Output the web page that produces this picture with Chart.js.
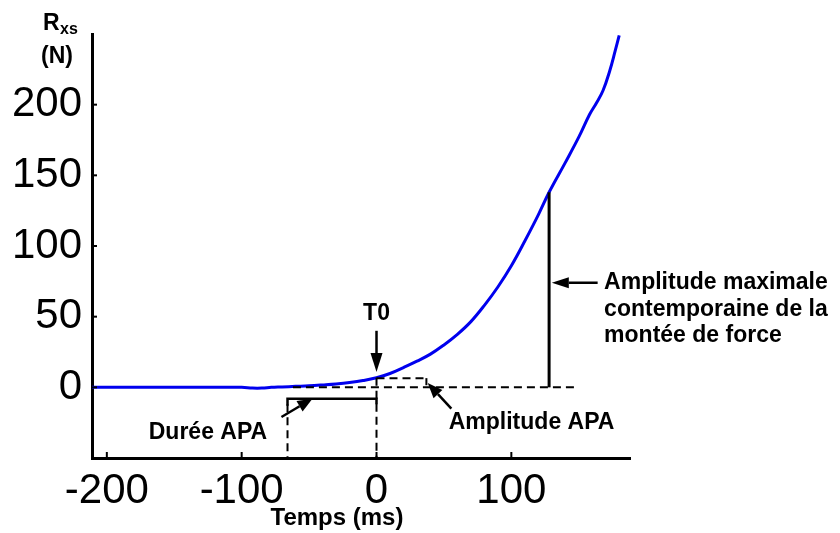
<!DOCTYPE html>
<html>
<head>
<meta charset="utf-8">
<title>Rxs - APA</title>
<script src="https://cdn.jsdelivr.net/npm/chart.js@4.4.1/dist/chart.umd.min.js"></script>
<style>
  html, body { margin: 0; padding: 0; background: #fff; }
  #wrap { width: 840px; height: 533px; }
</style>
</head>
<body>
<div id="wrap"><canvas id="chart" width="840" height="533"></canvas></div>
<script>
// Temps (ms) relatif a T0 et force Rxs (N)
const times  = [-211, -150, -100, -92, -85, -78, -70, -60, -50, -40, -30, -20, -10, 0,
                10, 20, 30, 40, 50, 60, 70, 80, 90, 100, 110, 120, 128, 140, 150, 158,
                163, 168, 173, 177, 180];
const forces = [0, 0, 0, -0.5, -0.5, 0, 0.3, 0.7, 1.1, 1.7, 2.4, 3.4, 4.8, 6.8,
                9.8, 14, 18.5, 23.5, 30, 37.5, 46.5, 58, 71, 86, 103.5, 122, 138, 159, 177, 193,
                201, 210, 224, 238, 249];

const xTickValues = [-200, -100, 0, 100];
const yTickValues = [0, 50, 100, 150, 200];
const xRange = [-211, 188];
const yRange = [-50, 250];

// Reperes de l'APA et de la montee de force
const t0 = 0;
const t0Force = 6.8;
const apaStart = -66;
const apaLevel = -8;
const apaAmplitude = 6.5;
const apaAmplitudeEnd = 37;
const baselineEnd = 150;
const peakTime = 128;
const peakForce = 138;

const FONT = '"Liberation Sans", Arial, sans-serif';

// Fleche pleine de (x1,y1) vers (x2,y2)
function arrow(ctx, x1, y1, x2, y2, head, half) {
    const a = Math.atan2(y2 - y1, x2 - x1);
    const bx = x2 - head * Math.cos(a);
    const by = y2 - head * Math.sin(a);
    ctx.beginPath();
    ctx.moveTo(x1, y1);
    ctx.lineTo(bx, by);
    ctx.stroke();
    ctx.beginPath();
    ctx.moveTo(x2, y2);
    ctx.lineTo(bx + half * Math.sin(a), by - half * Math.cos(a));
    ctx.lineTo(bx - half * Math.sin(a), by + half * Math.cos(a));
    ctx.closePath();
    ctx.fill();
}

function line(ctx, x1, y1, x2, y2, dash) {
    ctx.setLineDash(dash || []);
    ctx.beginPath();
    ctx.moveTo(x1, y1);
    ctx.lineTo(x2, y2);
    ctx.stroke();
    ctx.setLineDash([]);
}

// Petites graduations tournees vers l'interieur
const innerTicks = {
    id: 'innerTicks',
    afterDraw(chart) {
        const { ctx, chartArea: area, scales: { x, y } } = chart;
        ctx.save();
        ctx.strokeStyle = '#000';
        ctx.lineWidth = 2;
        yTickValues.forEach(v => line(ctx, area.left, y.getPixelForValue(v), area.left + 5, y.getPixelForValue(v)));
        xTickValues.forEach(v => line(ctx, x.getPixelForValue(v), area.bottom, x.getPixelForValue(v), area.bottom - 6));
        ctx.restore();
    }
};

// Annotations : T0, duree et amplitude de l'APA, amplitude maximale
const annotations = {
    id: 'annotations',
    afterDatasetsDraw(chart) {
        const { ctx, chartArea: area, scales: { x, y } } = chart;
        const px = v => x.getPixelForValue(v);
        const py = v => y.getPixelForValue(v);
        ctx.save();
        ctx.strokeStyle = '#000';
        ctx.fillStyle = '#000';

        // lignes en pointilles
        ctx.lineWidth = 2;
        const dash = [8, 5];
        line(ctx, px(apaStart + 4), py(0), px(baselineEnd), py(0), dash);
        line(ctx, px(t0), py(apaAmplitude), px(apaAmplitudeEnd), py(apaAmplitude), dash);
        line(ctx, px(apaAmplitudeEnd), py(apaAmplitude), px(apaAmplitudeEnd), py(apaAmplitude - 5));
        line(ctx, px(t0), py(t0Force), px(t0), area.bottom, dash);
        line(ctx, px(apaStart), py(apaLevel - 4), px(apaStart), area.bottom, dash);

        // crochet de la duree APA
        ctx.lineWidth = 2.5;
        ctx.beginPath();
        ctx.moveTo(px(apaStart), py(apaLevel - 5));
        ctx.lineTo(px(apaStart), py(apaLevel));
        ctx.lineTo(px(t0), py(apaLevel));
        ctx.lineTo(px(t0), py(apaLevel - 4));
        ctx.stroke();

        // amplitude maximale
        ctx.lineWidth = 3;
        line(ctx, px(peakTime), py(peakForce), px(peakTime), py(0));

        // fleches
        ctx.lineWidth = 2.5;
        arrow(ctx, px(t0), py(40), px(t0), py(t0Force + 4), 19, 6);
        arrow(ctx, px(-70.5), py(-21), px(-47.5), py(apaLevel), 15, 6);
        arrow(ctx, px(55.5), py(-15), px(38), py(3), 15, 6);
        arrow(ctx, px(164), py(74), px(peakTime + 2), py(74), 17, 5.5);

        // textes
        ctx.font = 'bold 23px ' + FONT;
        ctx.textBaseline = 'middle';
        ctx.textAlign = 'center';
        ctx.fillText('T0', px(t0), py(52));
        ctx.fillText('Durée APA', px(-125), py(-32));
        ctx.fillText('Amplitude APA', px(115), py(-25));
        ctx.textAlign = 'left';
        const lx = px(peakTime) + 55;
        ctx.fillText('Amplitude maximale', lx, py(74));
        ctx.fillText('contemporaine de la', lx, py(74) + 27);
        ctx.fillText('montée de force', lx, py(74) + 53);

        // titres des axes
        ctx.textAlign = 'center';
        ctx.font = 'bold 24px ' + FONT;
        ctx.fillText('Temps (ms)', area.left + 245, 518);
        ctx.textAlign = 'left';
        ctx.textBaseline = 'alphabetic';
        ctx.font = 'bold 23px ' + FONT;
        ctx.fillText('R', 43, 30);
        ctx.font = 'bold 16px ' + FONT;
        ctx.fillText('xs', 60, 34);
        ctx.font = 'bold 23px ' + FONT;
        ctx.fillText('(N)', 41, 63);
        ctx.restore();
    }
};

new Chart(document.getElementById('chart'), {
    type: 'line',
    data: {
        labels: times,
        datasets: [{
            data: forces.map((f, i) => ({ x: times[i], y: f })),
            borderColor: '#0000ee',
            borderWidth: 3,
            pointRadius: 0,
            fill: false,
            tension: 0.4
        }]
    },
    options: {
        responsive: false,
        animation: false,
        devicePixelRatio: 1,
        layout: { padding: { top: 34, right: 210, left: 0, bottom: 0 } },
        plugins: { legend: { display: false }, tooltip: { enabled: false } },
        scales: {
            x: {
                type: 'linear',
                min: xRange[0],
                max: xRange[1],
                afterBuildTicks: s => { s.ticks = xTickValues.map(v => ({ value: v })); },
                afterFit: s => { s.height = 75; },
                grid: { display: false, drawTicks: false },
                border: { display: true, color: '#000', width: 3 },
                ticks: {
                    color: '#000',
                    padding: 12,
                    maxRotation: 0,
                    autoSkip: false,
                    font: { family: FONT, size: 42, lineHeight: 1 }
                }
            },
            y: {
                type: 'linear',
                min: yRange[0],
                max: yRange[1],
                afterBuildTicks: s => { s.ticks = yTickValues.map(v => ({ value: v })); },
                afterFit: s => { s.width = 92; },
                grid: { display: false, drawTicks: false },
                border: { display: true, color: '#000', width: 3 },
                ticks: {
                    color: '#000',
                    padding: 10,
                    autoSkip: false,
                    font: { family: FONT, size: 42, lineHeight: 1 }
                }
            }
        }
    },
    plugins: [innerTicks, annotations]
});
</script>
</body>
</html>
